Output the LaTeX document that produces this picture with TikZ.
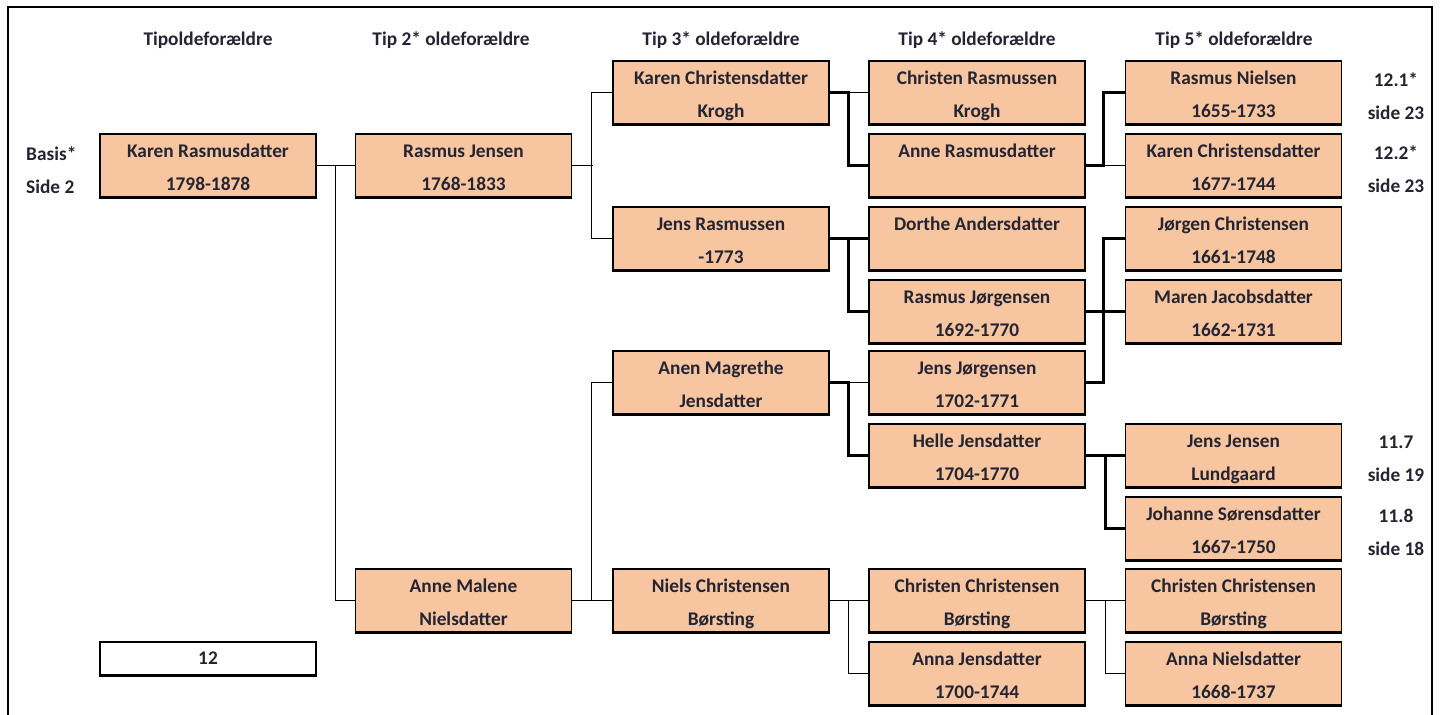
\documentclass[tikz,border=0pt]{standalone}
\usepackage{fontspec}
\setmainfont{Carlito}
\usepackage{tikz}
\usetikzlibrary{positioning}
\usepackage{xcolor}
\definecolor{famPeach}{RGB}{247,198,160}
\definecolor{famInk}{RGB}{36,36,50}

\tikzset{
    person/.style={draw=black, fill=famPeach, line width=0.9pt, minimum width=4.32cm, minimum height=1.26cm, inner sep=0pt, align=center, text=famInk, font=\bfseries\fontsize{11}{18.7}\selectfont,
        text height=29.5pt, text depth=1pt,
        append after command={(\tikzlastnode.south west) edge [line width=1.6pt] (\tikzlastnode.south east)}},
    numbox/.style={draw=black, fill=white, line width=0.9pt, minimum width=4.32cm, minimum height=0.66cm, inner sep=0pt, text=famInk, font=\bfseries\fontsize{11}{13}\selectfont,
        append after command={(\tikzlastnode.south west) edge [line width=1.6pt] (\tikzlastnode.south east)}},
    heading/.style={text=famInk, font=\bfseries\fontsize{11}{13}\selectfont},
    note/.style={text=famInk, font=\bfseries\fontsize{11}{18.7}\selectfont, align=center},
    link/.style={line width=0.8pt},
    heavylink/.style={line width=1.6pt}
}

\begin{document}
\begin{tikzpicture}[x=0.02cm, y=-0.02cm]
        \useasboundingbox (0,0) rectangle (1443,715);
        \draw [line width=1.6pt] (8,740) -- (8,7) -- (1432,7) -- (1432,740);
        % generation headings
        \foreach \x/\t [count=\i] in {208/Tipoldeforældre, 451/Tip 2* oldeforældre, 721/Tip 3* oldeforældre, 977/Tip 4* oldeforældre, 1234/Tip 5* oldeforældre} {\node [heading] (head\i) at (\x,40) {\t};};
        % generation 1 and 2
        \node [person] (kr) at (208,165.5) {Karen Rasmusdatter\\1798-1878};
        \node [numbox] (num) at (208,658.5) {12};
        \node [person] (rj) at (463.5,165.5) {Rasmus Jensen\\1768-1833};
        \node [person] (amn) at (463.5,600.5) {Anne Malene\\Nielsdatter};
        % generation 3
        \node [person] (kck) at (721,92.5) {Karen Christensdatter\\Krogh};
        \node [person] (jr) at (721,238.5) {Jens Rasmussen\\-1773};
        \node [person] (amj) at (721,382.5) {Anen Magrethe\\Jensdatter};
        \node [person] (ncb) at (721,600.5) {Niels Christensen\\Børsting};
        % generation 4
        \node [person] (crk) at (977,92.5) {Christen Rasmussen\\Krogh};
        \node [person] (ar) at (977,165.5) {Anne Rasmusdatter\\~};
        \node [person] (da) at (977,238.5) {Dorthe Andersdatter\\~};
        \node [person] (rjo) at (977,311.5) {Rasmus Jørgensen\\1692-1770};
        \node [person] (jjo) at (977,382.5) {Jens Jørgensen\\1702-1771};
        \node [person] (hj) at (977,455.5) {Helle Jensdatter\\1704-1770};
        \node [person] (ccb) at (977,600.5) {Christen Christensen\\Børsting};
        \node [person] (ajd) at (977,673.5) {Anna Jensdatter\\1700-1744};
        % generation 5
        \node [person] (rn) at (1233.5,92.5) {Rasmus Nielsen\\1655-1733};
        \node [person] (kcd) at (1233.5,165.5) {Karen Christensdatter\\1677-1744};
        \node [person] (jc) at (1233.5,238.5) {Jørgen Christensen\\1661-1748};
        \node [person] (mj) at (1233.5,311.5) {Maren Jacobsdatter\\1662-1731};
        \node [person] (jjl) at (1233.5,455.5) {Jens Jensen\\Lundgaard};
        \node [person] (js) at (1233.5,528.5) {Johanne Sørensdatter\\1667-1750};
        \node [person] (ccb5) at (1233.5,600.5) {Christen Christensen\\Børsting};
        \node [person] (an) at (1233.5,673.5) {Anna Nielsdatter\\1668-1737};
        % side notes
        \node [note, align=left, anchor=west] (basis) at (20,170) {Basis*\\Side 2};
        \node [note] (ref1) at (1396,96) {12.1*\\side 23};
        \node [note] (ref2) at (1396,169) {12.2*\\side 23};
        \node [note] (ref3) at (1396,459) {11.7\\side 19};
        \node [note] (ref4) at (1396,532) {11.8\\side 18};
        % parents lines
        \draw [link] (kr.east) -- (rj.west);
        \draw [link] (amn.west) -- ++(-19,0) |- (kr.east);
        \draw [link] (rj.east) -- ++(21,0);
        \draw [link] (kck.west) -- ++(-21,0) |- (jr.west);
        \draw [link] (amn.east) -- (ncb.west);
        \draw [link] (amj.west) -- ++(-21,0) |- (ncb.west);
        \draw [link] (kck.east) -- (crk.west);
        \draw [heavylink] (kck.east) -- ++(19,0) |- (ar.west);
        \draw [heavylink] (jr.east) -- (da.west);
        \draw [heavylink] (jr.east) -- ++(19,0) |- (rjo.west);
        \draw [link] (amj.east) -- (jjo.west);
        \draw [heavylink] (amj.east) -- ++(19,0) |- (hj.west);
        \draw [link] (ncb.east) -- (ccb.west);
        \draw [link] (ncb.east) -- ++(19,0) |- (ajd.west);
        \draw [link] (ar.east) -- (kcd.west);
        \draw [heavylink] (rn.west) -- ++(-21,0) |- (ar.east);
        \draw [heavylink] (rjo.east) -- (mj.west);
        \draw [heavylink] (jc.west) -- ++(-21,0) |- (jjo.east);
        \draw [heavylink] (hj.east) -- (jjl.west);
        \draw [heavylink] (hj.east) -- ++(20,0) |- (js.west);
        \draw [link] (ccb.east) -- (ccb5.west);
        \draw [link] (ccb.east) -- ++(20,0) |- (an.west);
    \end{tikzpicture}
\end{document}
